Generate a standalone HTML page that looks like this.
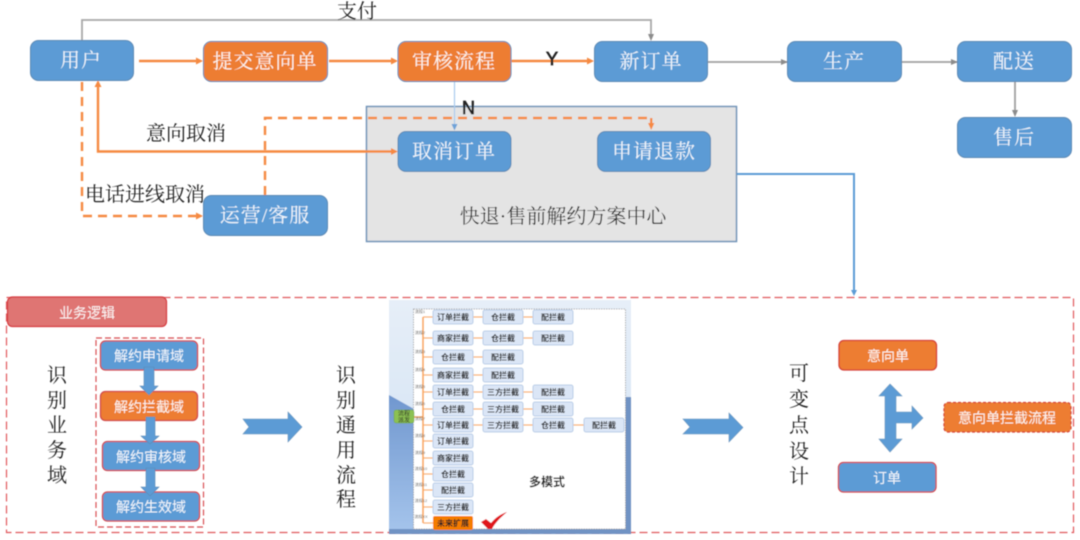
<!DOCTYPE html>
<html><head><meta charset="utf-8">
<style>
html,body{margin:0;padding:0;background:#fff;width:1080px;height:540px;overflow:hidden}
svg{display:block}
text{font-family:"Liberation Sans","Noto Sans CJK SC",sans-serif;text-anchor:middle}
.w{fill:#fff;font-size:20px;letter-spacing:1px;opacity:.93;font-family:"Liberation Serif","Noto Serif CJK SC",serif}
.k{fill:#222;font-size:20px;font-family:"Liberation Serif","Noto Serif CJK SC",serif}
.s{fill:#fff;font-size:14px;opacity:.93}
.v{fill:#222;font-size:20px;font-family:"Liberation Serif","Noto Serif CJK SC",serif}
.m{fill:#222;font-size:8px;font-weight:bold}
.n{fill:#666;font-size:4px}
.b{fill:#dbe6f6;stroke:#b9cde8;stroke-width:1}
.o{fill:none;stroke:#f58a42;stroke-width:2.400}
.d{fill:none;stroke:#f58a42;stroke-width:2.400;stroke-dasharray:9 6}
.mo{fill:none;stroke:#fbae66;stroke-width:1.300}
</style></head><body>
<svg width="1080" height="540" viewBox="0 0 1080 540" xmlns="http://www.w3.org/2000/svg">
<defs>
<linearGradient id="pg" x1="0" y1="0" x2="0" y2="1"><stop offset="0" stop-color="#e6eef8"/><stop offset="1" stop-color="#cfe0f3"/></linearGradient>
<linearGradient id="pl" x1="0" y1="0" x2="0" y2="1"><stop offset="0" stop-color="#7097cf"/><stop offset="1" stop-color="#a6c5ec"/></linearGradient>
<filter id="bl" x="-2%" y="-2%" width="104%" height="104%"><feGaussianBlur stdDeviation=".45"/></filter>
<filter id="bl2" x="-2%" y="-2%" width="104%" height="104%"><feGaussianBlur stdDeviation=".4"/></filter>
</defs>
<g filter="url(#bl2)">
<!-- grey center panel -->
<rect x="366.500" y="106.500" width="370" height="135" fill="#e4e4e4" stroke="#6f93b8" stroke-width="1.500"/>

<!-- pay line -->
<path d="M82 40V20H651V36" fill="none" stroke="#a8a8a8" stroke-width="1.800"/>
<path d="M648 34h6l-3 7z" fill="#8c8c8c"/>
<!-- grey links -->
<path d="M708 62H787M901 62H957M1015 82V111" fill="none" stroke="#a0a0a0" stroke-width="1.800"/>
<path d="M781 59v6l7-3zM951 59v6l7-3zM1012 110h6l-3 7z" fill="#8c8c8c"/>

<!-- orange solid -->
<path class="o" d="M139 61H198M329 61H392M511 61H589"/>
<path d="M196 57.500v7l7-3.500zM391 57.500v7l7-3.500zM587 57.500v7l7-3.500z" fill="#f58a42"/>
<path class="o" d="M98 84V151.500H392"/>
<path d="M94.500 87l3.500-7 3.500 7zM391 148v7l7-3.500z" fill="#f58a42"/>
<!-- dashed -->
<path class="d" d="M82 82V216H197"/>
<path d="M196 212.500v7l7-3.500z" fill="#f58a42"/>
<path class="d" d="M265 195V118H648"/>
<path d="M650 118h2.400v5h2l-3.200 7-3.200-7h2z" fill="#f58a42"/>
<!-- N line -->
<path d="M454.500 82V126" stroke="#a9cbee" stroke-width="1.200" fill="none"/>
<path d="M451.500 124h6l-3 6.500z" fill="#6ea3d8"/>
<!-- panel to detail -->
<path d="M737 174H854V292" fill="none" stroke="#5b9bd5" stroke-width="2"/>
<path d="M851 290h6l-3 6z" fill="#5b9bd5"/>

<text x="357" y="18" class="k">支付</text>
<text x="186" y="140" class="k">意向取消</text>
<text x="145" y="201" class="k">电话进线取消</text>
<text x="552" y="65" style="font-size:18px;fill:#222;stroke:#222;stroke-width:.7">Y</text>
<text x="468.500" y="114" style="font-size:18px;fill:#222;stroke:#222;stroke-width:.7">N</text>
<text x="563" y="223" class="k">快退·售前解约方案中心</text>

<!-- top nodes -->
<g stroke="#5d89b4" stroke-width="1">
<rect x="30.500" y="40.500" width="103" height="40" rx="8" fill="#5b9bd5"/>
<rect x="203.500" y="41.500" width="124" height="40" rx="8" fill="#ed7d31"/>
<rect x="398" y="41.500" width="113" height="40" rx="8" fill="#ed7d31"/>
<rect x="594.500" y="41.500" width="113" height="40" rx="8" fill="#5b9bd5"/>
<rect x="787.500" y="41.500" width="114" height="40" rx="8" fill="#5b9bd5"/>
<rect x="957.500" y="41.500" width="114" height="40" rx="8" fill="#5b9bd5"/>
<rect x="957.500" y="117.500" width="114" height="40" rx="8" fill="#5b9bd5"/>
<rect x="398" y="131.500" width="113" height="40" rx="8" fill="#5b9bd5"/>
<rect x="597.500" y="131.500" width="113" height="40" rx="8" fill="#5b9bd5"/>
<rect x="203.500" y="195.500" width="124" height="40" rx="8" fill="#5b9bd5"/>
</g>
<text x="81" y="67" class="w">用户</text>
<text x="265" y="68" class="w">提交意向单</text>
<text x="454" y="68" class="w">审核流程</text>
<text x="651" y="68" class="w">新订单</text>
<text x="844" y="68" class="w">生产</text>
<text x="1014" y="68" class="w">配送</text>
<text x="1014" y="144" class="w">售后</text>
<text x="454" y="158" class="w">取消订单</text>
<text x="654" y="158" class="w">申请退款</text>
<text x="265" y="222" class="w">运营/客服</text>

<!-- red dashed container -->
<rect x="6.500" y="297.500" width="1067" height="235" fill="none" stroke="#e0585c" stroke-width="1.200" stroke-dasharray="8 4"/>
<rect x="7.500" y="297" width="159" height="29.500" rx="5" fill="#df7573" stroke="#d5393d" stroke-width="1.200"/>
<text x="87" y="318" class="s">业务逻辑</text>

<!-- left column -->
<rect x="96" y="338" width="107.500" height="189" fill="none" stroke="#d94f52" stroke-width="1.200" stroke-dasharray="6 3"/>
<g stroke="#d1484b" stroke-width="1.300">
<rect x="100.500" y="341" width="97" height="29" rx="5" fill="#5b9bd5"/>
<rect x="100.500" y="391.500" width="97" height="29" rx="5" fill="#ed7d31"/>
<rect x="102.500" y="441.500" width="97" height="29" rx="5" fill="#5b9bd5"/>
<rect x="102.500" y="492" width="97" height="29" rx="5" fill="#5b9bd5"/>
</g>
<g fill="#5b9bd5" stroke="#5d89b4" stroke-width=".6">
<path d="M144 367h10v19h4l-9 9-9-9h4z"/>
<path d="M146 417h9v19h4l-9 8-9-8h5z"/>
<path d="M146 468h9v19h4l-9 9-9-9h5z"/>
</g>
<text x="149" y="361" class="s">解约申请域</text>
<text x="149" y="412" class="s">解约拦截域</text>
<text x="151" y="462" class="s">解约审核域</text>
<text x="151" y="512" class="s">解约生效域</text>
<text class="v" x="57" y="382">识</text>
<text class="v" x="57" y="407">别</text>
<text class="v" x="57" y="432">业</text>
<text class="v" x="57" y="457">务</text>
<text class="v" x="57" y="482">域</text>
<path d="M243 419H288V412L302 427L288 442V434H243L249 427Z" fill="#5b9bd5" stroke="#6f97bd" stroke-width=".6"/>
<text class="v" x="346" y="382">识</text>
<text class="v" x="346" y="407">别</text>
<text class="v" x="346" y="432">通</text>
<text class="v" x="346" y="457">用</text>
<text class="v" x="346" y="482">流</text>
<text class="v" x="346" y="506">程</text>

<!-- right section -->
<path d="M683 419H729V413L743 427.500L729 442V434H683L690 427Z" fill="#5b9bd5" stroke="#6f97bd" stroke-width=".6"/>
<text class="v" x="799" y="380">可</text>
<text class="v" x="799" y="406">变</text>
<text class="v" x="799" y="432">点</text>
<text class="v" x="799" y="458">设</text>
<text class="v" x="799" y="483">计</text>
<rect x="839" y="340.500" width="97.500" height="29.500" rx="5" fill="#ed7d31" stroke="#d5403a" stroke-width="1.300"/>
<rect x="838.500" y="462.500" width="97.500" height="29.500" rx="5" fill="#5b9bd5" stroke="#d1484b" stroke-width="1.300"/>
<text x="888" y="361" class="s">意向单</text>
<text x="887" y="483" class="s">订单</text>
<path d="M890 384L902 396H896V412H912V406L923 418L912 429V423H896V439H902L890 452L879 439H885V396H879Z" fill="#5b9bd5" stroke="#6f97bd" stroke-width=".6"/>
<rect x="944" y="402.500" width="127" height="29.500" rx="4" fill="#ed7d31" stroke="#d5403a" stroke-width="1.200" stroke-dasharray="3 2"/>
<text x="1007" y="423" class="s">意向单拦截流程</text>
</g>

<!-- mini image -->
<g filter="url(#bl)">
<rect x="389" y="300" width="242" height="234" fill="url(#pg)"/>
<path d="M389 395L414 409V534H389Z" fill="url(#pl)"/>
<rect x="625" y="397" width="6" height="137" fill="#6f93c4"/>
<rect x="389" y="529" width="242" height="5" fill="#6f93c4"/>
<rect x="413.500" y="309" width="212" height="220" fill="#fff" stroke="#999" stroke-width=".8" stroke-dasharray="1.500 1"/>
<path d="M423 417V317M423 417V523M414 417H423" fill="none" stroke="#f9a24f" stroke-width="1.600"/>
<path class="mo" d="M423 317H433M423 338H433M423 357H433M423 375H433M423 392H433M423 409H433M423 425H433M423 441H433M423 458H433M423 474H433M423 490H433M423 507H433M423 523H433M473 317H483M523 317H533M473 338H483M523 338H533M473 357H483M473 375H483M473 392H483M523 392H533M473 409H483M523 409H533M473 425H483M523 425H533M573 425H584"/>
<rect x="394" y="410" width="20" height="13" rx="2" fill="#8cc152" stroke="#6da33a" stroke-width=".5"/>
<text class="m" x="404" y="415.500" style="font-size:6px;font-weight:normal">流程</text>
<text class="m" x="404" y="422" style="font-size:6px;font-weight:normal">派发</text>

<rect class="b" x="433" y="310" width="40" height="14" rx="2"/><text class="m" x="453" y="320">订单拦截</text>
<rect class="b" x="483" y="310" width="40" height="14" rx="2"/><text class="m" x="503" y="320">仓拦截</text>
<rect class="b" x="533" y="310" width="40" height="14" rx="2"/><text class="m" x="553" y="320">配拦截</text>

<rect class="b" x="433" y="331" width="40" height="14" rx="2"/><text class="m" x="453" y="341">商家拦截</text>
<rect class="b" x="483" y="331" width="40" height="14" rx="2"/><text class="m" x="503" y="341">仓拦截</text>
<rect class="b" x="533" y="331" width="40" height="14" rx="2"/><text class="m" x="553" y="341">配拦截</text>

<rect class="b" x="433" y="350" width="40" height="14" rx="2"/><text class="m" x="453" y="360">仓拦截</text>
<rect class="b" x="483" y="350" width="40" height="14" rx="2"/><text class="m" x="503" y="360">配拦截</text>

<rect class="b" x="433" y="368" width="40" height="14" rx="2"/><text class="m" x="453" y="378">商家拦截</text>
<rect class="b" x="483" y="368" width="40" height="14" rx="2"/><text class="m" x="503" y="378">配拦截</text>

<rect class="b" x="433" y="385" width="40" height="14" rx="2"/><text class="m" x="453" y="395">订单拦截</text>
<rect class="b" x="483" y="385" width="40" height="14" rx="2"/><text class="m" x="503" y="395">三方拦截</text>
<rect class="b" x="533" y="385" width="40" height="14" rx="2"/><text class="m" x="553" y="395">配拦截</text>

<rect class="b" x="433" y="402" width="40" height="14" rx="2"/><text class="m" x="453" y="412">仓拦截</text>
<rect class="b" x="483" y="402" width="40" height="14" rx="2"/><text class="m" x="503" y="412">三方拦截</text>
<rect class="b" x="533" y="402" width="40" height="14" rx="2"/><text class="m" x="553" y="412">配拦截</text>

<rect class="b" x="433" y="418" width="40" height="14" rx="2"/><text class="m" x="453" y="428">订单拦截</text>
<rect class="b" x="483" y="418" width="40" height="14" rx="2"/><text class="m" x="503" y="428">三方拦截</text>
<rect class="b" x="533" y="418" width="40" height="14" rx="2"/><text class="m" x="553" y="428">仓拦截</text>
<rect class="b" x="584" y="418" width="40" height="14" rx="2"/><text class="m" x="604" y="428">配拦截</text>

<rect class="b" x="433" y="434" width="40" height="14" rx="2"/><text class="m" x="453" y="444">订单拦截</text>
<rect class="b" x="433" y="451" width="40" height="14" rx="2"/><text class="m" x="453" y="461">商家拦截</text>
<rect class="b" x="433" y="467" width="40" height="14" rx="2"/><text class="m" x="453" y="477">仓拦截</text>
<rect class="b" x="433" y="483" width="40" height="14" rx="2"/><text class="m" x="453" y="493">配拦截</text>
<rect class="b" x="433" y="500" width="40" height="14" rx="2"/><text class="m" x="453" y="510">三方拦截</text>
<rect x="433" y="516" width="40" height="14" rx="2" fill="#f57c00"/><text class="m" x="453" y="526">未来扩展</text>

<text class="n" x="420" y="313">流程1</text>
<text class="n" x="420" y="334">流程2</text>
<text class="n" x="420" y="353">流程3</text>
<text class="n" x="420" y="371">流程4</text>
<text class="n" x="420" y="388">流程5</text>
<text class="n" x="420" y="405">流程6</text>
<text class="n" x="420" y="420">流程7</text>
<text class="n" x="420" y="437">流程8</text>
<text class="n" x="420" y="454">流程9</text>
<text class="n" x="421" y="470">流程10</text>
<text class="n" x="421" y="486">流程11</text>
<text class="n" x="421" y="502">流程12</text>
<text class="n" x="421" y="518">流程XX</text>

<text x="547" y="486" style="font-size:12px;font-weight:bold;fill:#222">多模式</text>
<path d="M481 522L486 519L491 523C496 517 501 514 507 512C500 518 495 523 492 529L488 529Z" fill="#e0141c"/>
</g>
</svg>
</body></html>
